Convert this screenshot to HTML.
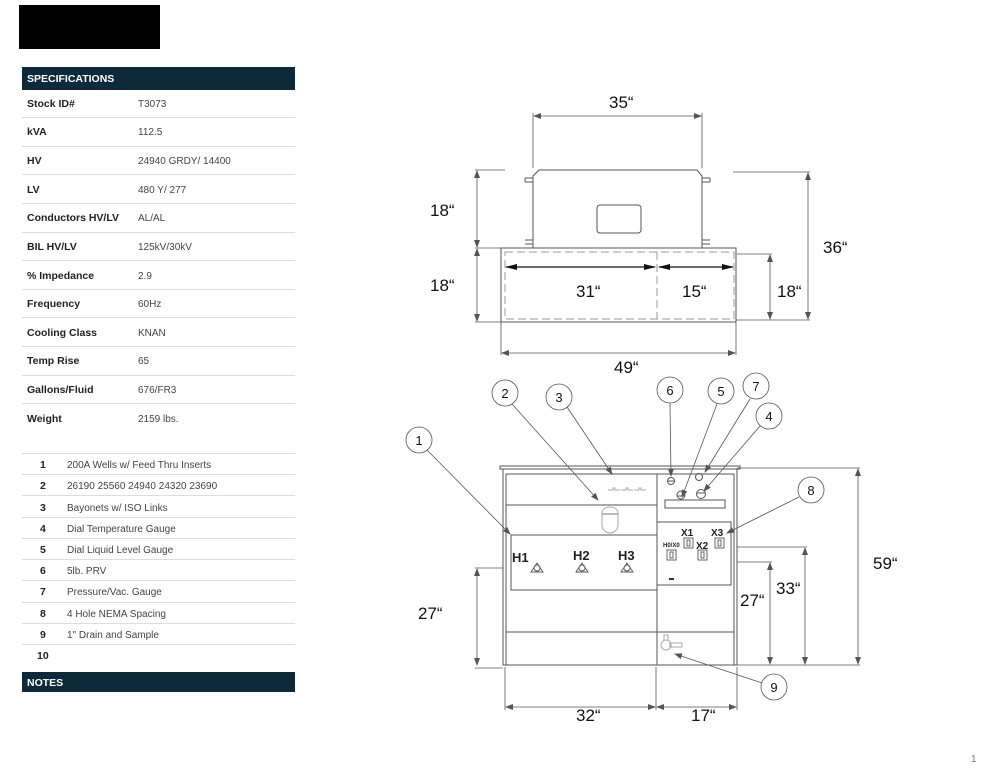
<!DOCTYPE html>
<html><head><meta charset="utf-8"><style>
html,body{margin:0;padding:0;background:#fff;}
svg{display:block;}
.l{font-family:"Liberation Sans",sans-serif;font-size:10.5px;font-weight:bold;fill:#222;}
.v{font-family:"Liberation Sans",sans-serif;font-size:10px;fill:#444;}
.h{font-family:"Liberation Sans",sans-serif;font-size:10.5px;font-weight:bold;fill:#fff;}
.d{font-family:"Liberation Sans",sans-serif;font-size:17px;fill:#111;}
.c{font-family:"Liberation Sans",sans-serif;font-size:13px;fill:#111;text-anchor:middle;}
.b{font-family:"Liberation Sans",sans-serif;font-weight:bold;fill:#222;}
</style></head><body>
<svg width="1000" height="773" viewBox="0 0 1000 773" xmlns="http://www.w3.org/2000/svg">
<defs>
<marker id="a" markerWidth="8" markerHeight="6" refX="7" refY="3" orient="auto" markerUnits="userSpaceOnUse"><path d="M0,0 L8,3 L0,6 z" fill="#555"/></marker>
<marker id="as" markerWidth="8" markerHeight="6" refX="1" refY="3" orient="auto" markerUnits="userSpaceOnUse"><path d="M8,0 L0,3 L8,6 z" fill="#555"/></marker>
<marker id="ab" markerWidth="12" markerHeight="6" refX="11" refY="3" orient="auto" markerUnits="userSpaceOnUse"><path d="M0,0 L12,3 L0,6 z" fill="#111"/></marker>
<marker id="abs" markerWidth="12" markerHeight="6" refX="1" refY="3" orient="auto" markerUnits="userSpaceOnUse"><path d="M12,0 L0,3 L12,6 z" fill="#111"/></marker>
</defs>
<rect x="19" y="5" width="141" height="44" fill="#000"/>
<rect x="22" y="67" width="273" height="23" fill="#0d2a3a"/>
<text x="27" y="82" class="h">SPECIFICATIONS</text>
<g stroke="#ddd" stroke-width="1">
<line x1="22" y1="117.5" x2="295" y2="117.5"/><line x1="22" y1="146.5" x2="295" y2="146.5"/>
<line x1="22" y1="174.5" x2="295" y2="174.5"/><line x1="22" y1="203.5" x2="295" y2="203.5"/>
<line x1="22" y1="232.5" x2="295" y2="232.5"/><line x1="22" y1="260.5" x2="295" y2="260.5"/>
<line x1="22" y1="289.5" x2="295" y2="289.5"/><line x1="22" y1="317.5" x2="295" y2="317.5"/>
<line x1="22" y1="346.5" x2="295" y2="346.5"/><line x1="22" y1="375.5" x2="295" y2="375.5"/>
<line x1="22" y1="403.5" x2="295" y2="403.5"/>
<line x1="22" y1="453.5" x2="295" y2="453.5"/><line x1="22" y1="474.5" x2="295" y2="474.5"/>
<line x1="22" y1="495.5" x2="295" y2="495.5"/><line x1="22" y1="517.5" x2="295" y2="517.5"/>
<line x1="22" y1="538.5" x2="295" y2="538.5"/><line x1="22" y1="559.5" x2="295" y2="559.5"/>
<line x1="22" y1="580.5" x2="295" y2="580.5"/><line x1="22" y1="602.5" x2="295" y2="602.5"/>
<line x1="22" y1="623.5" x2="295" y2="623.5"/><line x1="22" y1="644.5" x2="295" y2="644.5"/>
</g>
<g>
<text x="27" y="107" class="l">Stock ID#</text><text x="138" y="107" class="v">T3073</text>
<text x="27" y="135" class="l">kVA</text><text x="138" y="135" class="v">112.5</text>
<text x="27" y="164" class="l">HV</text><text x="138" y="164" class="v">24940 GRDY/ 14400</text>
<text x="27" y="193" class="l">LV</text><text x="138" y="193" class="v">480 Y/ 277</text>
<text x="27" y="221" class="l">Conductors HV/LV</text><text x="138" y="221" class="v">AL/AL</text>
<text x="27" y="250" class="l">BIL HV/LV</text><text x="138" y="250" class="v">125kV/30kV</text>
<text x="27" y="279" class="l">% Impedance</text><text x="138" y="279" class="v">2.9</text>
<text x="27" y="307" class="l">Frequency</text><text x="138" y="307" class="v">60Hz</text>
<text x="27" y="336" class="l">Cooling Class</text><text x="138" y="336" class="v">KNAN</text>
<text x="27" y="364" class="l">Temp Rise</text><text x="138" y="364" class="v">65</text>
<text x="27" y="393" class="l">Gallons/Fluid</text><text x="138" y="393" class="v">676/FR3</text>
<text x="27" y="422" class="l">Weight</text><text x="138" y="422" class="v">2159 lbs.</text>
</g>
<g>
<text x="40" y="468" class="l">1</text><text x="67" y="468" class="v">200A Wells w/ Feed Thru Inserts</text>
<text x="40" y="489" class="l">2</text><text x="67" y="489" class="v">26190 25560 24940 24320 23690</text>
<text x="40" y="511" class="l">3</text><text x="67" y="511" class="v">Bayonets w/ ISO Links</text>
<text x="40" y="532" class="l">4</text><text x="67" y="532" class="v">Dial Temperature Gauge</text>
<text x="40" y="553" class="l">5</text><text x="67" y="553" class="v">Dial Liquid Level Gauge</text>
<text x="40" y="574" class="l">6</text><text x="67" y="574" class="v">5lb. PRV</text>
<text x="40" y="595" class="l">7</text><text x="67" y="595" class="v">Pressure/Vac. Gauge</text>
<text x="40" y="617" class="l">8</text><text x="67" y="617" class="v">4 Hole NEMA Spacing</text>
<text x="40" y="638" class="l">9</text><text x="67" y="638" class="v">1" Drain and Sample</text>
<text x="37" y="659" class="l">10</text>
</g>
<rect x="22" y="672" width="273" height="20" fill="#0d2a3a"/>
<text x="27" y="686" class="h">NOTES</text>
<text x="971" y="762" style="font-family:'Liberation Sans',sans-serif;font-size:10px;fill:#777">1</text>

<!-- TOP VIEW -->
<g fill="none" stroke="#555" stroke-width="1">
<path d="M533,248 L533,176 L539,170 L697,170 L702,176 L702,248"/>
<line x1="525" y1="178" x2="533" y2="178"/><line x1="525" y1="182" x2="533" y2="182"/><line x1="525" y1="178" x2="525" y2="182"/>
<line x1="702" y1="178" x2="710" y2="178"/><line x1="702" y1="182" x2="710" y2="182"/><line x1="710" y1="178" x2="710" y2="182"/>
<line x1="525" y1="240" x2="533" y2="240"/><line x1="525" y1="244" x2="533" y2="244"/>
<line x1="702" y1="240" x2="710" y2="240"/><line x1="702" y1="244" x2="710" y2="244"/>
<rect x="597" y="205" width="44" height="28" rx="3"/>
<rect x="501" y="248" width="235" height="74"/>
</g>
<g fill="none" stroke="#999" stroke-width="1" stroke-dasharray="8,4">
<rect x="505" y="252" width="229" height="67"/>
<line x1="657" y1="252" x2="657" y2="319"/>
</g>
<g stroke="#111" stroke-width="1.2">
<line x1="506" y1="267" x2="655" y2="267" marker-start="url(#abs)" marker-end="url(#ab)"/>
<line x1="659" y1="267" x2="733" y2="267" marker-start="url(#abs)" marker-end="url(#ab)"/>
</g>
<g stroke="#555" stroke-width="0.8" fill="none">
<line x1="533" y1="113" x2="533" y2="168"/><line x1="702" y1="113" x2="702" y2="168"/>
<line x1="534" y1="116" x2="701" y2="116" marker-start="url(#as)" marker-end="url(#a)"/>
<line x1="475" y1="170" x2="505" y2="170"/><line x1="475" y1="248" x2="501" y2="248"/><line x1="475" y1="322" x2="501" y2="322"/>
<line x1="477" y1="171" x2="477" y2="247" marker-start="url(#as)" marker-end="url(#a)"/>
<line x1="477" y1="249" x2="477" y2="321" marker-start="url(#as)" marker-end="url(#a)"/>
<line x1="733" y1="172" x2="810" y2="172"/><line x1="736" y1="320" x2="810" y2="320"/>
<line x1="808" y1="173" x2="808" y2="319" marker-start="url(#as)" marker-end="url(#a)"/>
<line x1="737" y1="254" x2="772" y2="254"/>
<line x1="770" y1="255" x2="770" y2="319" marker-start="url(#as)" marker-end="url(#a)"/>
<line x1="501" y1="322" x2="501" y2="355"/><line x1="736" y1="322" x2="736" y2="355"/>
<line x1="502" y1="353" x2="735" y2="353" marker-start="url(#as)" marker-end="url(#a)"/>
</g>
<text x="609" y="108" class="d">35“</text>
<text x="430" y="216" class="d">18“</text>
<text x="430" y="291" class="d">18“</text>
<text x="576" y="297" class="d">31“</text>
<text x="682" y="297" class="d">15“</text>
<text x="777" y="297" class="d">18“</text>
<text x="823" y="253" class="d">36“</text>
<text x="614" y="373" class="d">49“</text>

<!-- FRONT VIEW -->
<g fill="none" stroke="#555" stroke-width="1">
<rect x="500" y="466" width="240" height="3"/>
<rect x="503" y="469" width="234" height="196"/>
<rect x="506" y="474" width="151" height="191"/>
<rect x="657" y="474" width="77" height="191"/>
<line x1="506" y1="505" x2="657" y2="505"/>
<rect x="511" y="535" width="146" height="55"/>
<line x1="506" y1="632" x2="734" y2="632"/>
<rect x="665" y="500" width="60" height="8"/>
<rect x="657" y="522" width="74" height="63"/>
<circle cx="671" cy="481" r="3.5"/><line x1="668" y1="481" x2="674" y2="481"/>
<circle cx="699" cy="477" r="3.5"/>
<circle cx="681" cy="495" r="4"/><line x1="677" y1="496" x2="685" y2="496"/>
<circle cx="701" cy="494" r="4.5"/><line x1="697" y1="493" x2="705" y2="493"/>
</g>
<g fill="none" stroke="#aaa" stroke-width="1">
<path d="M608,490 h5 v-2 h2 v2 h5 M621,490 h5 v-2 h2 v2 h5 M634,490 h5 v-2 h2 v2 h5"/>
<path d="M602,513 a8,6 0 0 1 16,0 v12 a8,8 0 0 1 -16,0 z"/>
<line x1="602" y1="514" x2="618" y2="514" stroke="#777"/>
<circle cx="666" cy="645" r="5"/><rect x="670" y="643" width="12" height="4"/><path d="M664,640 v-5 h4 v5"/>
</g>
<g fill="none" stroke="#555" stroke-width="0.9">
<path d="M531,572 l6,-9 l6,9 z"/><circle cx="537" cy="568" r="3"/>
<path d="M576,572 l6,-9 l6,9 z"/><circle cx="582" cy="568" r="3"/>
<path d="M621,572 l6,-9 l6,9 z"/><circle cx="627" cy="568" r="3"/>
<rect x="684" y="538" width="9" height="10"/><rect x="687" y="540" width="3" height="6"/>
<rect x="715" y="538" width="9" height="10"/><rect x="718" y="540" width="3" height="6"/>
<rect x="667" y="550" width="9" height="10"/><rect x="670" y="552" width="3" height="6"/>
<rect x="698" y="550" width="9" height="10"/><rect x="701" y="552" width="3" height="6"/>
</g>
<rect x="669" y="578" width="5" height="2" fill="#333"/>
<text x="512" y="562" class="b" style="font-size:13px">H1</text>
<text x="573" y="560" class="b" style="font-size:13px">H2</text>
<text x="618" y="560" class="b" style="font-size:13px">H3</text>
<text x="681" y="536" class="b" style="font-size:10px">X1</text>
<text x="711" y="536" class="b" style="font-size:10px">X3</text>
<text x="696" y="549" class="b" style="font-size:10px">X2</text>
<text x="663" y="547" class="b" style="font-size:6px">H0/X0</text>

<g stroke="#555" stroke-width="0.8" fill="none">
<line x1="475" y1="568" x2="503" y2="568"/><line x1="475" y1="668" x2="503" y2="668"/>
<line x1="477" y1="569" x2="477" y2="665" marker-start="url(#as)" marker-end="url(#a)"/>
<line x1="737" y1="468" x2="860" y2="468"/><line x1="737" y1="665" x2="860" y2="665"/>
<line x1="858" y1="469" x2="858" y2="664" marker-start="url(#as)" marker-end="url(#a)"/>
<line x1="737" y1="547" x2="807" y2="547"/>
<line x1="805" y1="548" x2="805" y2="664" marker-start="url(#as)" marker-end="url(#a)"/>
<line x1="737" y1="562" x2="772" y2="562"/>
<line x1="770" y1="563" x2="770" y2="664" marker-start="url(#as)" marker-end="url(#a)"/>
<line x1="505" y1="667" x2="505" y2="710"/><line x1="656" y1="667" x2="656" y2="710"/><line x1="737" y1="667" x2="737" y2="710"/>
<line x1="506" y1="707" x2="655" y2="707" marker-start="url(#as)" marker-end="url(#a)"/>
<line x1="657" y1="707" x2="736" y2="707" marker-start="url(#as)" marker-end="url(#a)"/>
</g>
<text x="418" y="619" class="d">27“</text>
<text x="740" y="606" class="d">27“</text>
<text x="776" y="594" class="d">33“</text>
<text x="873" y="569" class="d">59“</text>
<text x="576" y="721" class="d">32“</text>
<text x="691" y="721" class="d">17“</text>

<!-- callouts -->
<g stroke="#555" stroke-width="0.8" fill="none">
<line x1="427" y1="450" x2="510" y2="534" marker-end="url(#a)"/>
<line x1="512" y1="404" x2="598" y2="500" marker-end="url(#a)"/>
<line x1="567" y1="407" x2="612" y2="474" marker-end="url(#a)"/>
<line x1="670" y1="403" x2="671" y2="476" marker-end="url(#a)"/>
<line x1="717" y1="404" x2="682" y2="497" marker-end="url(#a)"/>
<line x1="750" y1="399" x2="705" y2="472" marker-end="url(#a)"/>
<line x1="760" y1="426" x2="704" y2="491" marker-end="url(#a)"/>
<line x1="799" y1="497" x2="727" y2="533" marker-end="url(#a)"/>
<line x1="762" y1="683" x2="675" y2="654" marker-end="url(#a)"/>
<circle cx="419" cy="440" r="13"/><circle cx="505" cy="393" r="13"/><circle cx="559" cy="397" r="13"/>
<circle cx="670" cy="390" r="13"/><circle cx="721" cy="391" r="13"/><circle cx="756" cy="386" r="13"/>
<circle cx="769" cy="416" r="13"/><circle cx="811" cy="490" r="13"/><circle cx="774" cy="687" r="13"/>
</g>
<text x="419" y="445" class="c">1</text><text x="505" y="398" class="c">2</text><text x="559" y="402" class="c">3</text>
<text x="670" y="395" class="c">6</text><text x="721" y="396" class="c">5</text><text x="756" y="391" class="c">7</text>
<text x="769" y="421" class="c">4</text><text x="811" y="495" class="c">8</text><text x="774" y="692" class="c">9</text>
</svg>
</body></html>
